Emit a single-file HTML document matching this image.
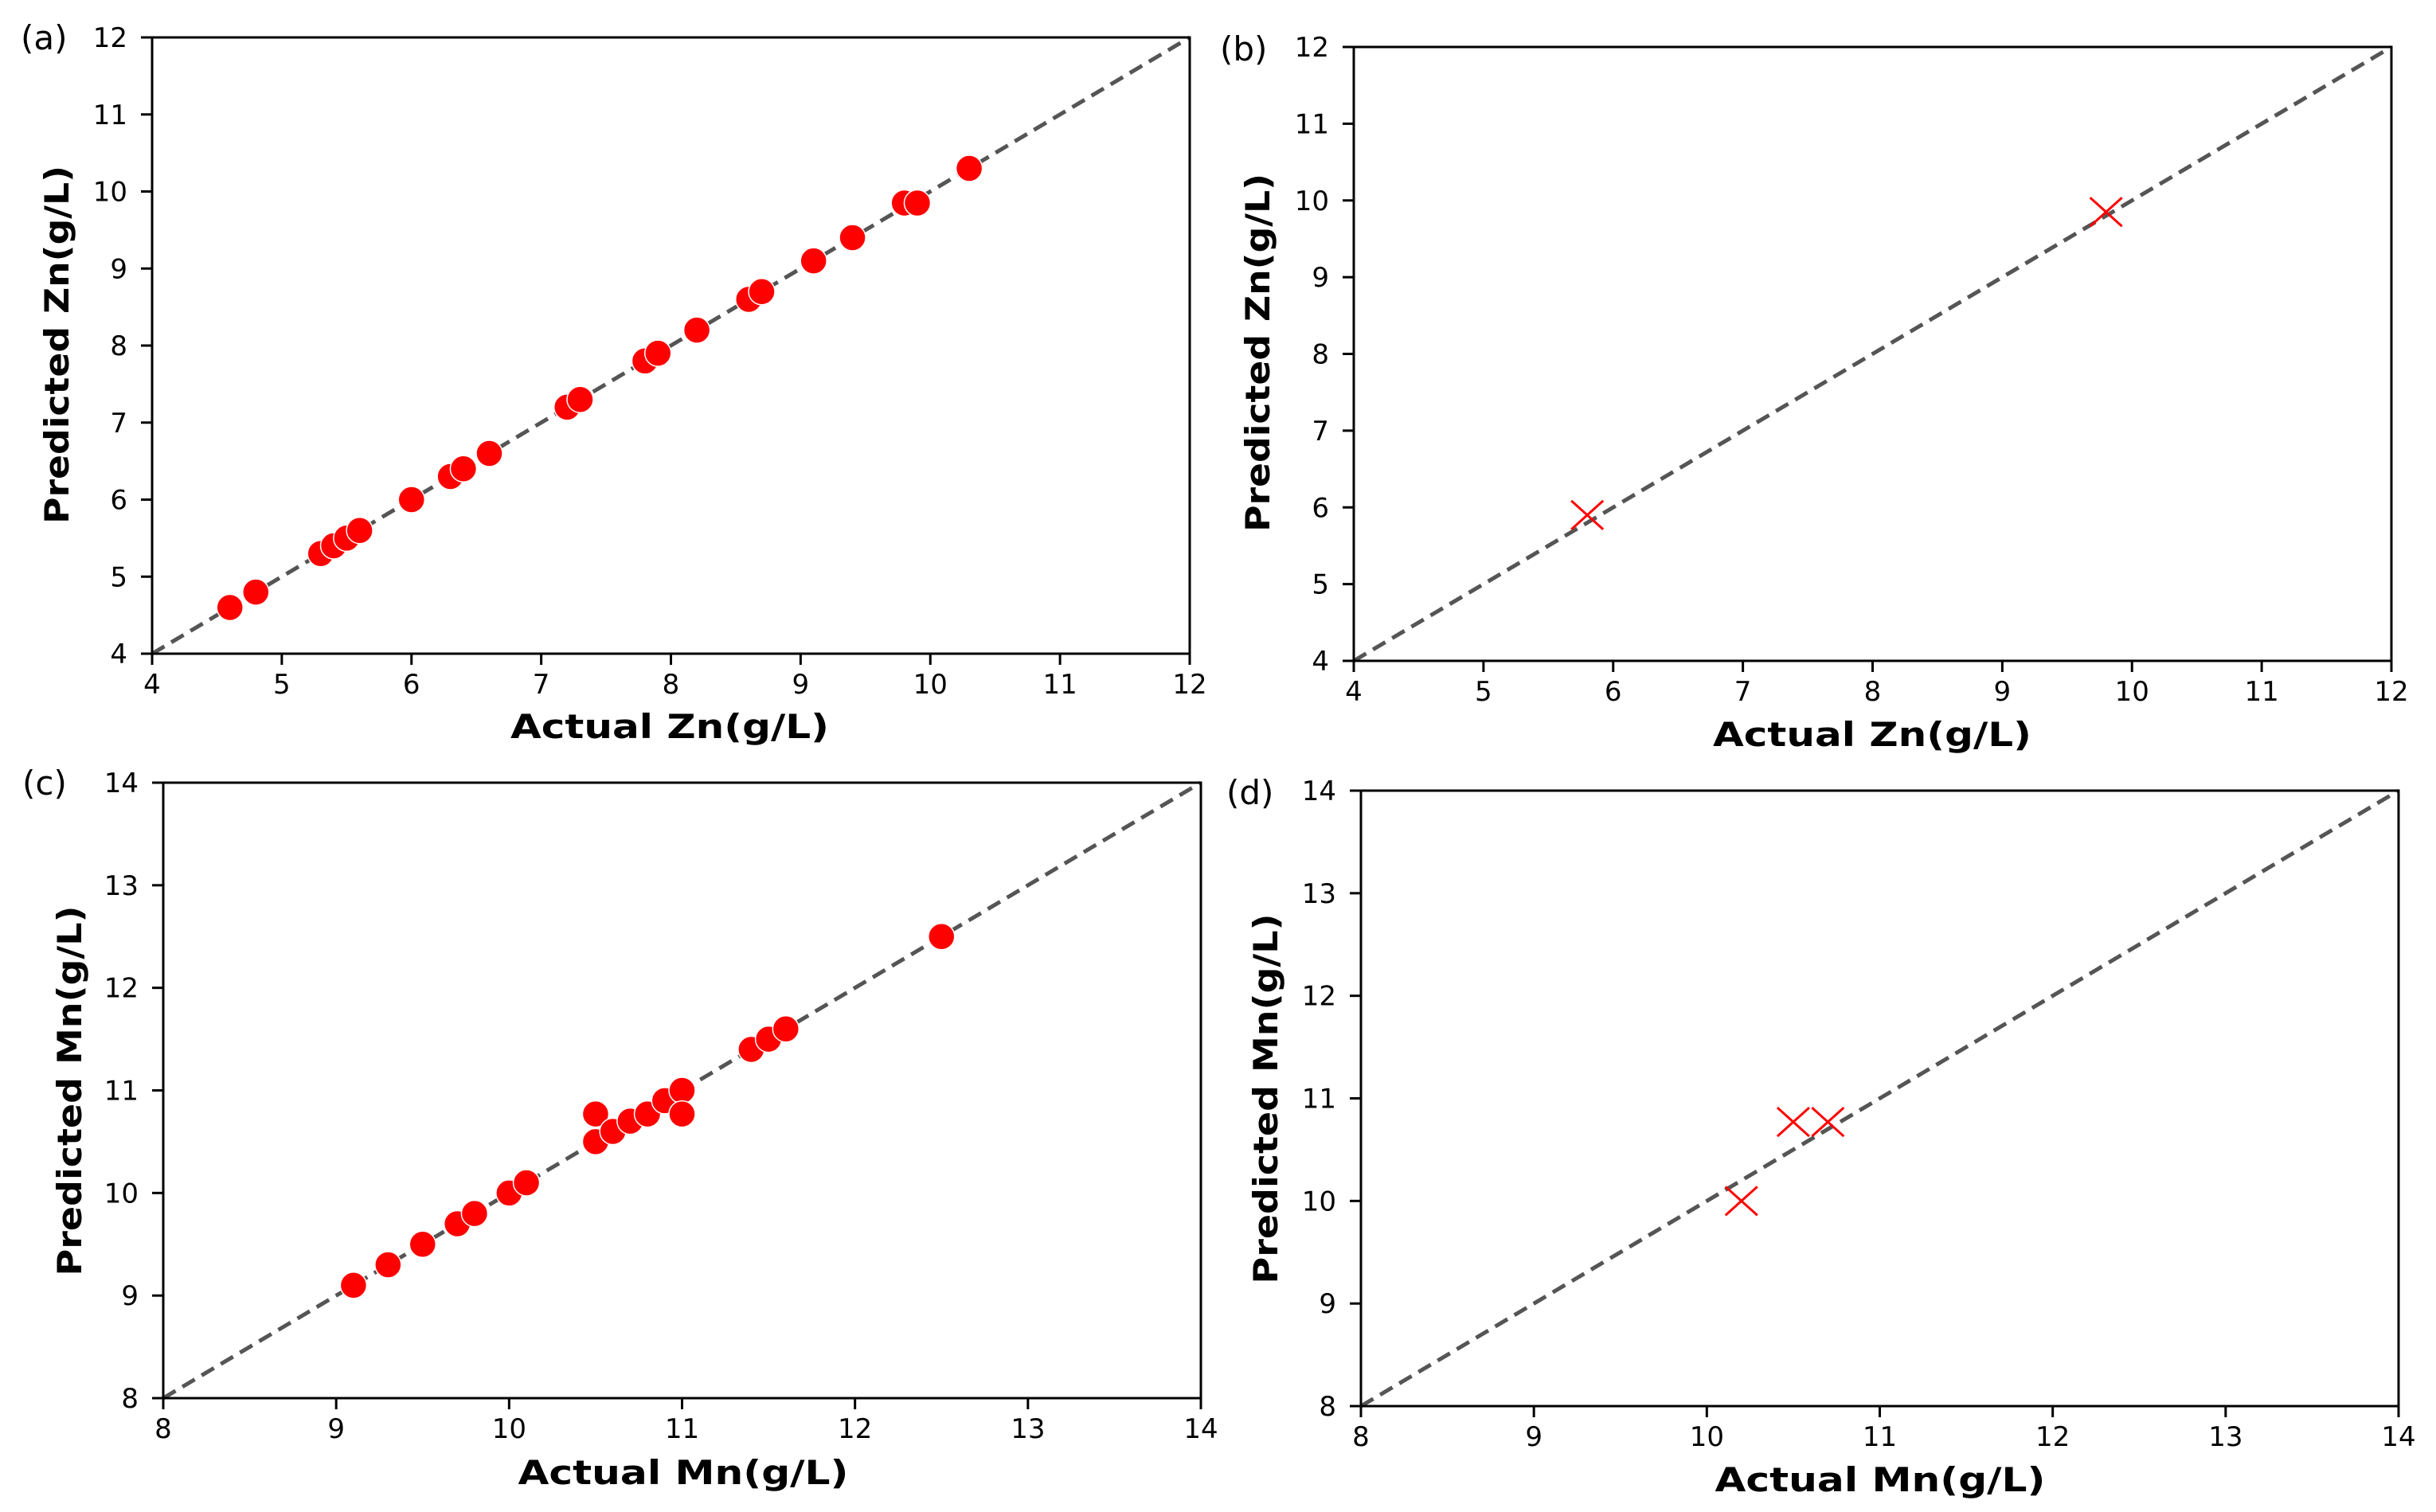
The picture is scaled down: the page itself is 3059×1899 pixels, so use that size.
<!DOCTYPE html>
<html><head><meta charset="utf-8">
<style>
html,body{margin:0;padding:0;background:#fff;}
svg{display:block;}
text{font-family:"DejaVu Sans","Liberation Sans",sans-serif;fill:#000;}
</style></head>
<body>
<svg id="fig" width="3059" height="1899" viewBox="0 0 3059 1899" xmlns="http://www.w3.org/2000/svg"></svg>
<script>
// Panel (a): training Zn
const aActual = [4.6,4.8,5.3,5.4,5.5,5.6,6.0,6.3,6.4,6.6,7.2,7.3,7.8,7.9,8.2,8.6,8.7,9.1,9.4,9.8,9.9,10.3];
const aPred   = [4.6,4.8,5.3,5.4,5.5,5.6,6.0,6.3,6.4,6.6,7.2,7.3,7.8,7.9,8.2,8.6,8.7,9.1,9.4,9.85,9.85,10.3];
// Panel (b): test Zn
const bActual = [5.8,9.8];
const bPred   = [5.9,9.85];
// Panel (c): training Mn
const cActual = [9.1,9.3,9.5,9.7,9.8,10.0,10.1,10.5,10.5,10.6,10.7,10.8,10.9,11.0,11.0,11.4,11.5,11.6,12.5];
const cPred   = [9.1,9.3,9.5,9.7,9.8,10.0,10.1,10.5,10.77,10.6,10.7,10.77,10.9,11.0,10.77,11.4,11.5,11.6,12.5];
// Panel (d): test Mn
const dActual = [10.2,10.5,10.7];
const dPred   = [10.0,10.77,10.77];
// Tick labels
const znTicks = [4,5,6,7,8,9,10,11,12];
const mnTicks = [8,9,10,11,12,13,14];

const NS = "http://www.w3.org/2000/svg";
const svg = document.getElementById('fig');
function mk(tag, attrs, parent){
  const e = document.createElementNS(NS, tag);
  for (const k in attrs) e.setAttribute(k, attrs[k]);
  (parent||svg).appendChild(e);
  return e;
}

function panel(cfg){
  const g = mk('g', {});
  
  
  const {L,R,T,B,min,max,ticks} = cfg;
  const sx = v => L + (v-min)/(max-min)*(R-L);
  const sy = v => B - (v-min)/(max-min)*(B-T);

  // identity line
  const line = mk('line', {x1:sx(min), y1:sy(min), x2:sx(max), y2:sy(max), stroke:'#555', 'stroke-width':5, 'stroke-dasharray':'18 10'}, g);
  
  

  // points
  for (let i=0;i<cfg.xs.length;i++){
    const cx = sx(cfg.xs[i]), cy = sy(cfg.ys[i]);
    if (cfg.marker === 'circle'){
      const c = mk('circle', {cx:cx, cy:cy, r:16.5, fill:'#ff0000', stroke:'#fff', 'stroke-width':1.5}, g);
      
      
    } else {
      const p = mk('path', {d:`M${cx-20},${cy-18}L${cx+20},${cy+18}M${cx-20},${cy+18}L${cx+20},${cy-18}`, stroke:'#ff0000', 'stroke-width':3, fill:'none'}, g);
      
      
    }
  }

  // frame
  const fr = mk('rect', {x:L, y:T, width:R-L, height:B-T, fill:'none', stroke:'#000', 'stroke-width':3}, g);
  
  

  // ticks
  ticks.forEach(t => {
    const x = sx(t), y = sy(t);
    mk('line', {x1:x, y1:B, x2:x, y2:B+14, stroke:'#000', 'stroke-width':3}, g);
    const xt = mk('text', {x:x, y:B+50, 'font-size':34, 'text-anchor':'middle'}, g);
    xt.textContent = t;
    
    
    mk('line', {x1:L-14, y1:y, x2:L, y2:y, stroke:'#000', 'stroke-width':3}, g);
    const yt = mk('text', {x:L-31, y:y+12, 'font-size':34, 'text-anchor':'end'}, g);
    yt.textContent = t;
    
    
  });

  // axis titles
  const xtitle = mk('text', {x:cfg.xtx, y:cfg.xty, 'font-size':42, 'font-weight':'bold', 'text-anchor':'middle', textLength:cfg.xtw, lengthAdjust:'spacingAndGlyphs'}, g);
  xtitle.textContent = cfg.xtitle;
  
  
  const ytitle = mk('text', {x:0, y:0, 'font-size':42, 'font-weight':'bold', 'text-anchor':'middle', textLength:cfg.ytw, lengthAdjust:'spacingAndGlyphs', transform:`translate(${cfg.ytx},${cfg.yty}) rotate(-90)`}, g);
  ytitle.textContent = cfg.ytitle;
  
  

  // panel label
  const pl = mk('text', {x:cfg.lx, y:cfg.ly, 'font-size':42, 'font-family':'Liberation Sans, sans-serif'}, g);
  pl.textContent = '(' + cfg.id + ')';
  
  
}

panel({id:'a', L:191, R:1494, T:47, B:821, min:4, max:12, ticks:znTicks, xs:aActual, ys:aPred, marker:'circle',
  xtitle:'Actual Zn(g/L)', xtx:841, xty:927, xtw:400, ytitle:'Predicted Zn(g/L)', ytx:86, yty:433, ytw:450, lx:26, ly:62});
panel({id:'b', L:1700, R:3003, T:59, B:830, min:4, max:12, ticks:znTicks, xs:bActual, ys:bPred, marker:'x',
  xtitle:'Actual Zn(g/L)', xtx:2351, xty:937, xtw:400, ytitle:'Predicted Zn(g/L)', ytx:1594, yty:443, ytw:450, lx:1532, ly:76});
panel({id:'c', L:205, R:1508, T:983, B:1756, min:8, max:14, ticks:mnTicks, xs:cActual, ys:cPred, marker:'circle',
  xtitle:'Actual Mn(g/L)', xtx:858, xty:1864, xtw:415, ytitle:'Predicted Mn(g/L)', ytx:102, yty:1370, ytw:465, lx:28, ly:998});
panel({id:'d', L:1709, R:3012, T:993, B:1766, min:8, max:14, ticks:mnTicks, xs:dActual, ys:dPred, marker:'x',
  xtitle:'Actual Mn(g/L)', xtx:2361, xty:1873, xtw:415, ytitle:'Predicted Mn(g/L)', ytx:1604, yty:1380, ytw:465, lx:1540, ly:1010});
</script>
</body></html>
